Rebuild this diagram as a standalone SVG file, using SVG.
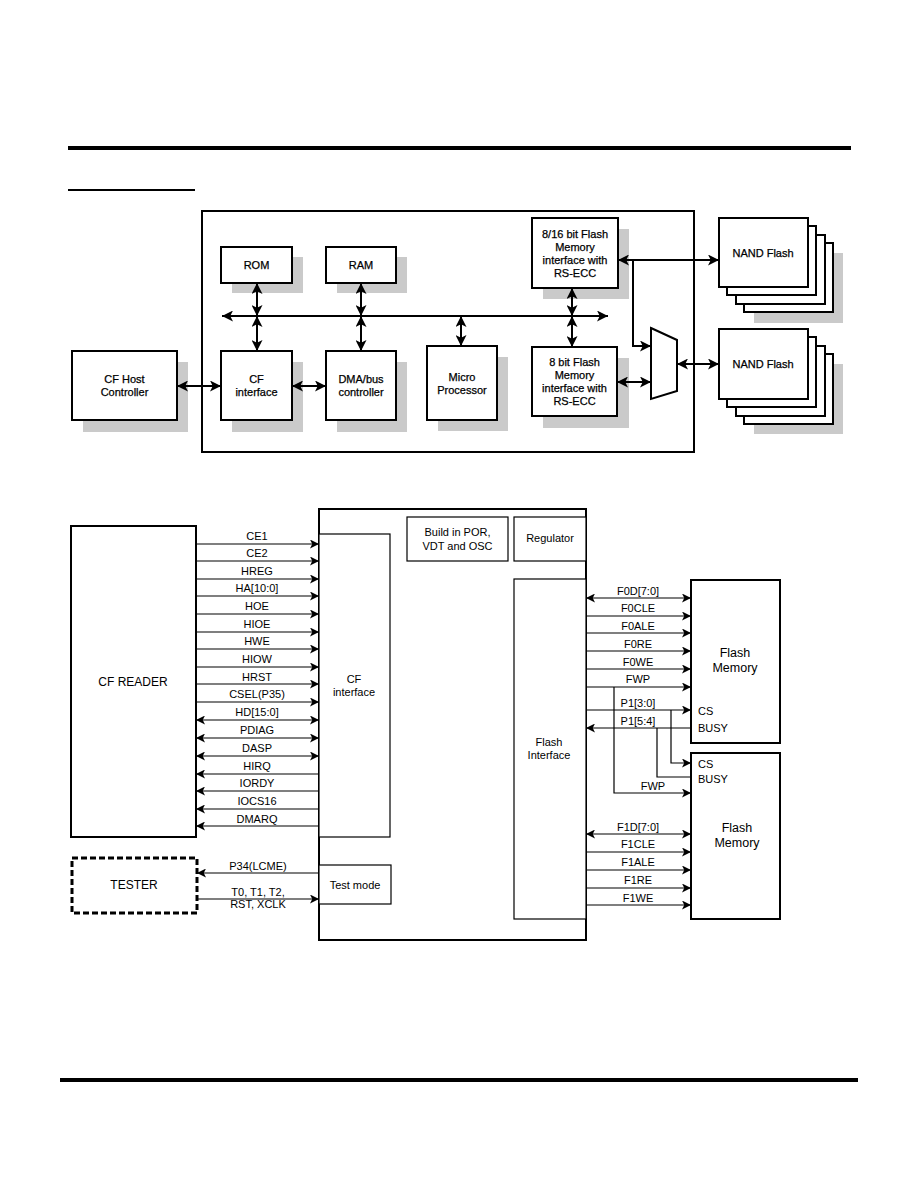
<svg xmlns="http://www.w3.org/2000/svg" width="918" height="1188" viewBox="0 0 918 1188">
<style>
text{font-family:"Liberation Sans",Arial,sans-serif;font-size:11px;fill:#000;text-anchor:middle}
.tp text{font-size:11px;stroke:#000;stroke-width:0.25}
.b{fill:#fff;stroke:#000;stroke-width:2}
.t{fill:#fff;stroke:#000;stroke-width:1.2}
.sh{fill:#cacaca}
.L{stroke:#000;stroke-width:2;fill:none}
.s{stroke:#000;stroke-width:1.2;fill:none}
.ma{marker-end:url(#A)}
.mb{marker-start:url(#A);marker-end:url(#A)}
.me{marker-end:url(#S)}
.md{marker-start:url(#S);marker-end:url(#S)}
.big{font-size:12px}
.fm{font-size:12.5px}
.lt{text-anchor:start}
</style>
<defs>
<marker id="A" viewBox="0 0 10 10" refX="10" refY="5" markerWidth="11" markerHeight="11" markerUnits="userSpaceOnUse" orient="auto-start-reverse"><path d="M0,0 L10,5 L0,10 L2.5,5z" fill="#000"/></marker>
<marker id="S" viewBox="0 0 10 10" refX="10" refY="5" markerWidth="9" markerHeight="9" markerUnits="userSpaceOnUse" orient="auto-start-reverse"><path d="M0,0 L10,5 L0,10 L2.5,5z" fill="#000"/></marker>
</defs>
<rect width="918" height="1188" fill="#fff"/>
<g id="rules">
<rect x="68" y="146" width="783" height="4" fill="#000"/>
<rect x="68" y="189" width="127" height="2" fill="#000"/>
<rect x="60" y="1078" width="798" height="4" fill="#000"/>
</g>
<g class="tp">
<g id="controller-box"><rect x="202" y="211" width="492" height="241" fill="none" stroke="#000" stroke-width="2"/></g>
<g id="rom"><rect class="sh" x="232" y="257" width="71" height="36"/><rect class="b" x="221" y="247" width="71" height="36"/><text x="256.5" y="269">ROM</text></g>
<g id="ram"><rect class="sh" x="337" y="257" width="70" height="36"/><rect class="b" x="326" y="247" width="70" height="36"/><text x="361" y="269">RAM</text></g>
<g id="cf-host"><rect class="sh" x="83" y="362" width="105" height="70"/><rect class="b" x="72" y="351" width="105" height="69"/><text x="124.5" y="383">CF Host</text><text x="124.5" y="396">Controller</text></g>
<g id="cf-interface"><rect class="sh" x="232" y="362" width="71" height="70"/><rect class="b" x="221" y="351" width="71" height="69"/><text x="256.5" y="383">CF</text><text x="256.5" y="396">interface</text></g>
<g id="dma"><rect class="sh" x="337" y="362" width="70" height="70"/><rect class="b" x="326" y="351" width="70" height="69"/><text x="361" y="383">DMA/bus</text><text x="361" y="396">controller</text></g>
<g id="micro"><rect class="sh" x="438" y="357" width="70" height="74"/><rect class="b" x="427" y="346" width="70" height="74"/><text x="462" y="381">Micro</text><text x="462" y="394">Processor</text></g>
<g id="flash8"><rect class="sh" x="543" y="358" width="86" height="70"/><rect class="b" x="532" y="347" width="85" height="69"/><text x="574.5" y="366">8 bit Flash</text><text x="574.5" y="379">Memory</text><text x="574.5" y="392">interface with</text><text x="574.5" y="405">RS-ECC</text></g>
<g id="flash816"><rect class="sh" x="543" y="229" width="86" height="70"/><rect class="b" x="532" y="218" width="86" height="70"/><text x="575" y="238">8/16 bit Flash</text><text x="575" y="251">Memory</text><text x="575" y="264">interface with</text><text x="575" y="277">RS-ECC</text></g>
<g id="mux"><polygon points="651,328 677,340 677,391 651,399" fill="#fff" stroke="#000" stroke-width="2"/></g>
<g id="nand1">
<rect class="sh" x="754" y="253" width="89" height="70"/>
<rect class="b" x="744" y="243" width="89" height="69"/>
<rect class="b" x="736" y="235" width="89" height="69"/>
<rect class="b" x="727" y="226" width="89" height="69"/>
<rect class="b" x="719" y="218" width="89" height="69"/>
<text x="763" y="257">NAND Flash</text>
</g>
<g id="nand2">
<rect class="sh" x="754" y="364" width="89" height="70"/>
<rect class="b" x="744" y="354" width="89" height="70"/>
<rect class="b" x="736" y="346" width="89" height="70"/>
<rect class="b" x="727" y="337" width="89" height="70"/>
<rect class="b" x="719" y="329" width="89" height="70"/>
<text x="763" y="368">NAND Flash</text>
</g>
</g>
<g id="top-connectors">
<line class="L mb" x1="222" y1="316" x2="608" y2="316"/>
<line class="L mb" x1="257" y1="283" x2="257" y2="316"/>
<line class="L mb" x1="257" y1="316" x2="257" y2="351"/>
<line class="L mb" x1="361" y1="283" x2="361" y2="316"/>
<line class="L mb" x1="361" y1="316" x2="361" y2="351"/>
<line class="L mb" x1="461" y1="316" x2="461" y2="346"/>
<line class="L mb" x1="572" y1="288" x2="572" y2="316"/>
<line class="L mb" x1="572" y1="316" x2="572" y2="347"/>
<line class="L mb" x1="177" y1="386" x2="221" y2="386"/>
<line class="L mb" x1="292" y1="386" x2="326" y2="386"/>
<line class="L mb" x1="618" y1="260" x2="719" y2="260"/>
<polyline class="L ma" points="633,260 633,346 651,346"/>
<line class="L mb" x1="617" y1="382" x2="651" y2="382"/>
<line class="L mb" x1="677" y1="364" x2="719" y2="364"/>
</g>
<g id="cf-reader"><rect class="b" x="71" y="526" width="125" height="311"/><text class="big" x="133" y="686">CF READER</text></g>
<g id="tester"><rect x="72" y="858" width="125" height="55" fill="#fff" stroke="#000" stroke-width="3" stroke-dasharray="6,3"/><text class="big" x="134" y="889">TESTER</text></g>
<g id="chip"><rect class="b" x="319" y="509" width="267" height="431"/></g>
<g id="cf-if2"><rect class="t" x="319" y="534" width="71" height="303"/><text x="354" y="683">CF</text><text x="354" y="696">interface</text></g>
<g id="por"><rect class="t" x="407" y="517" width="101" height="44"/><text x="457.5" y="536">Build in POR,</text><text x="457.5" y="550">VDT and OSC</text></g>
<g id="regulator"><rect class="t" x="514" y="517" width="72" height="44"/><text x="550" y="542">Regulator</text></g>
<g id="flash-if"><rect class="t" x="514" y="579" width="72" height="340"/><text x="549" y="746">Flash</text><text x="549" y="759">Interface</text></g>
<g id="test-mode"><rect class="t" x="319" y="865" width="72" height="39"/><text x="355" y="889">Test mode</text></g>
<g id="flash-mem0"><rect class="b" x="691" y="580" width="89" height="163"/><text class="fm" x="735" y="657">Flash</text><text class="fm" x="735" y="672">Memory</text><text class="lt" x="698" y="715">CS</text><text class="lt" x="698" y="732">BUSY</text></g>
<g id="flash-mem1"><rect class="b" x="691" y="753" width="89" height="166"/><text class="fm" x="737" y="832">Flash</text><text class="fm" x="737" y="847">Memory</text><text class="lt" x="698" y="768">CS</text><text class="lt" x="698" y="783">BUSY</text></g>
<g id="bottom-connectors">
<line class="s me" x1="196" y1="544" x2="319" y2="544"/>
<line class="s me" x1="196" y1="561" x2="319" y2="561"/>
<line class="s me" x1="196" y1="579" x2="319" y2="579"/>
<line class="s me" x1="196" y1="596" x2="319" y2="596"/>
<line class="s me" x1="196" y1="614" x2="319" y2="614"/>
<line class="s me" x1="196" y1="632" x2="319" y2="632"/>
<line class="s me" x1="196" y1="649" x2="319" y2="649"/>
<line class="s me" x1="196" y1="667" x2="319" y2="667"/>
<line class="s me" x1="196" y1="684" x2="319" y2="684"/>
<line class="s me" x1="196" y1="702" x2="319" y2="702"/>
<line class="s md" x1="196" y1="720" x2="319" y2="720"/>
<line class="s md" x1="196" y1="738" x2="319" y2="738"/>
<line class="s md" x1="196" y1="756" x2="319" y2="756"/>
<line class="s me" x1="319" y1="774" x2="196" y2="774"/>
<line class="s me" x1="319" y1="791" x2="196" y2="791"/>
<line class="s me" x1="319" y1="809" x2="196" y2="809"/>
<line class="s me" x1="319" y1="826" x2="196" y2="826"/>
<line class="s me" x1="319" y1="873" x2="197" y2="873"/>
<line class="s me" x1="197" y1="899" x2="319" y2="899"/>
<line class="s md" x1="586" y1="598" x2="691" y2="598"/>
<line class="s me" x1="586" y1="616" x2="691" y2="616"/>
<line class="s me" x1="586" y1="633" x2="691" y2="633"/>
<line class="s me" x1="586" y1="651" x2="691" y2="651"/>
<line class="s me" x1="586" y1="669" x2="691" y2="669"/>
<line class="s me" x1="586" y1="687" x2="691" y2="687"/>
<line class="s me" x1="586" y1="710" x2="691" y2="710"/>
<line class="s me" x1="691" y1="728" x2="586" y2="728"/>
<polyline class="s me" points="614,687 614,793 691,793"/>
<polyline class="s me" points="671,710 671,763 691,763"/>
<polyline class="s" points="657,728 657,777 691,777"/>
<line class="s md" x1="586" y1="834" x2="691" y2="834"/>
<line class="s me" x1="586" y1="852" x2="691" y2="852"/>
<line class="s me" x1="586" y1="870" x2="691" y2="870"/>
<line class="s me" x1="586" y1="888" x2="691" y2="888"/>
<line class="s me" x1="586" y1="905" x2="691" y2="905"/>
</g>
<g id="labels">
<text x="257" y="540">CE1</text>
<text x="257" y="557">CE2</text>
<text x="257" y="575">HREG</text>
<text x="257" y="592">HA[10:0]</text>
<text x="257" y="610">HOE</text>
<text x="257" y="628">HIOE</text>
<text x="257" y="645">HWE</text>
<text x="257" y="663">HIOW</text>
<text x="257" y="681">HRST</text>
<text x="257" y="698">CSEL(P35)</text>
<text x="257" y="716">HD[15:0]</text>
<text x="257" y="734">PDIAG</text>
<text x="257" y="752">DASP</text>
<text x="257" y="770">HIRQ</text>
<text x="257" y="787">IORDY</text>
<text x="257" y="805">IOCS16</text>
<text x="257" y="823">DMARQ</text>
<text x="258" y="870">P34(LCME)</text>
<text x="258" y="896">T0, T1, T2,</text>
<text x="258" y="908">RST, XCLK</text>
<text x="638" y="595">F0D[7:0]</text>
<text x="638" y="612">F0CLE</text>
<text x="638" y="630">F0ALE</text>
<text x="638" y="648">F0RE</text>
<text x="638" y="666">F0WE</text>
<text x="638" y="683">FWP</text>
<text x="638" y="707">P1[3:0]</text>
<text x="638" y="725">P1[5:4]</text>
<text x="653" y="790">FWP</text>
<text x="638" y="831">F1D[7:0]</text>
<text x="638" y="848">F1CLE</text>
<text x="638" y="866">F1ALE</text>
<text x="638" y="884">F1RE</text>
<text x="638" y="902">F1WE</text>
</g>
</svg>
